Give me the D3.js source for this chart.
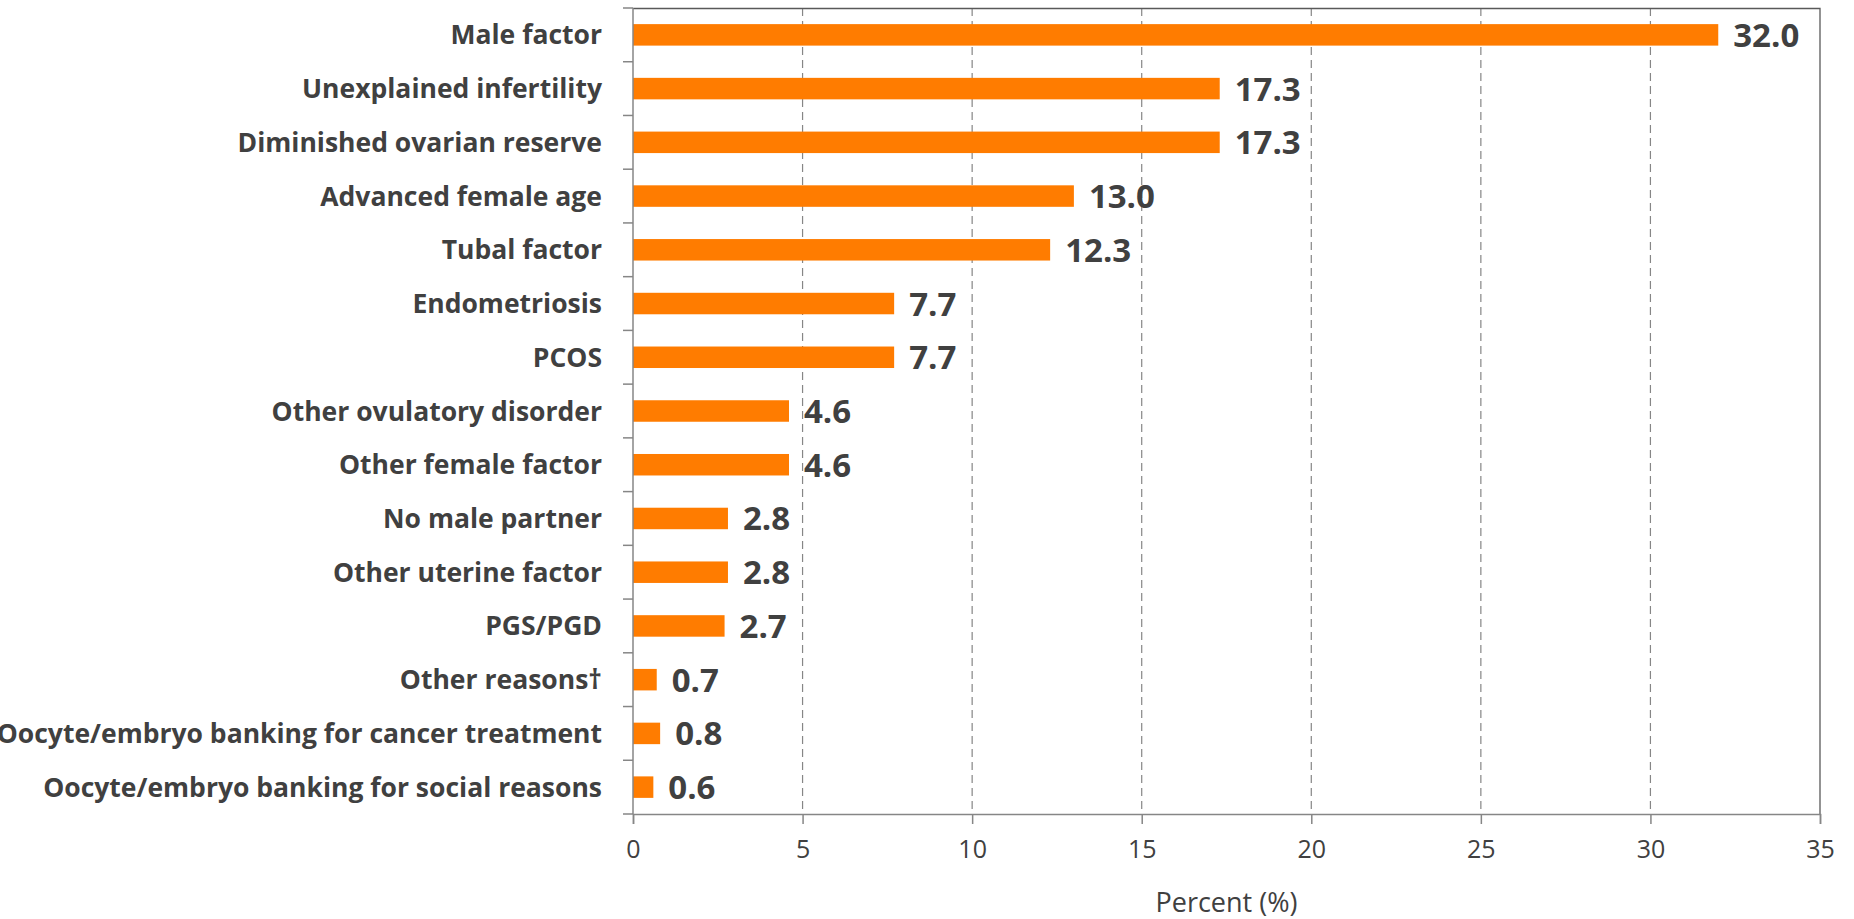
<!DOCTYPE html>
<html>
<head>
<meta charset="utf-8">
<script src="https://cdn.jsdelivr.net/npm/d3@7"></script>
<style>
  html, body { margin: 0; padding: 0; background: #fff; }
  svg { display: block; }
</style>
</head>
<body>
<div id="chart"></div>
<script>
const categories = [
  "Male factor",
  "Unexplained infertility",
  "Diminished ovarian reserve",
  "Advanced female age",
  "Tubal factor",
  "Endometriosis",
  "PCOS",
  "Other ovulatory disorder",
  "Other female factor",
  "No male partner",
  "Other uterine factor",
  "PGS/PGD",
  "Other reasons\u2020",
  "Oocyte/embryo banking for cancer treatment",
  "Oocyte/embryo banking for social reasons"
];
const values = [32.0, 17.3, 17.3, 13.0, 12.3, 7.7, 7.7, 4.6, 4.6, 2.8, 2.8, 2.7, 0.7, 0.8, 0.6];
const xTicks = [0, 5, 10, 15, 20, 25, 30, 35];
const xTitle = "Percent (%)";

const width = 1854;
const height = 919;
const margin = { top: 8, right: 34, bottom: 105, left: 633 };

const textColor = "#404040";
const axisColor = "#868686";
const barColor = "#FF7C00";

const svg = d3
  .select("#chart")
  .append("svg")
  .attr("width", width)
  .attr("height", height);

const x = d3
  .scaleLinear()
  .domain([0, 35])
  .range([margin.left, width - margin.right]);

const y = d3
  .scaleBand()
  .domain(categories)
  .range([margin.top, height - margin.bottom])
  .paddingInner(0.6)
  .paddingOuter(0.3);

const data = categories.map((c, i) => ({ name: c, value: values[i] }));

// dashed vertical gridlines
svg
  .append("g")
  .selectAll("line")
  .data(xTicks.filter((t) => t > 0 && t < 35))
  .enter()
  .append("line")
  .attr("x1", (d) => x(d))
  .attr("x2", (d) => x(d))
  .attr("y1", margin.top)
  .attr("y2", height - margin.bottom)
  .attr("stroke", axisColor)
  .attr("stroke-width", 1.2)
  .attr("stroke-dasharray", "8,5");

// frame (top + right)
svg
  .append("path")
  .attr(
    "d",
    `M${x(0)},${margin.top + 0.5}H${x(35)}V${height - margin.bottom}`
  )
  .attr("fill", "none")
  .attr("stroke", "#595959")
  .attr("stroke-width", 1.3);

// bars
svg
  .append("g")
  .selectAll("rect")
  .data(data)
  .enter()
  .append("rect")
  .attr("x", x(0))
  .attr("y", (d) => y(d.name))
  .attr("width", (d) => x(d.value) - x(0))
  .attr("height", y.bandwidth())
  .attr("fill", barColor);

// value labels
svg
  .append("g")
  .selectAll("text")
  .data(data)
  .enter()
  .append("text")
  .attr("x", (d) => x(d.value) + 15)
  .attr("y", (d) => y(d.name) + y.bandwidth() / 2 + 12)
  .attr("font-family", "'Open Sans', sans-serif")
  .attr("font-weight", "bold")
  .attr("font-size", 33)
  .attr("fill", textColor)
  .text((d) => d.value.toFixed(1));

// y axis: line + ticks at band boundaries
const step = y.step();
const boundaries = d3.range(categories.length + 1).map(
  (i) => margin.top + i * step
);
const yAxis = svg.append("g");
yAxis
  .append("line")
  .attr("x1", x(0))
  .attr("x2", x(0))
  .attr("y1", margin.top)
  .attr("y2", height - margin.bottom)
  .attr("stroke", axisColor)
  .attr("stroke-width", 1.5);
yAxis
  .selectAll(".tick")
  .data(boundaries)
  .enter()
  .append("line")
  .attr("x1", x(0) - 10)
  .attr("x2", x(0))
  .attr("y1", (d) => d)
  .attr("y2", (d) => d)
  .attr("stroke", axisColor)
  .attr("stroke-width", 1.5);

yAxis
  .selectAll("text")
  .data(categories)
  .enter()
  .append("text")
  .attr("x", x(0) - 31)
  .attr("y", (d) => y(d) + y.bandwidth() / 2 + 9.5)
  .attr("text-anchor", "end")
  .attr("font-family", "'Open Sans', sans-serif")
  .attr("font-weight", "bold")
  .attr("font-size", 26.5)
  .attr("fill", textColor)
  .text((d) => d);

// x axis
const xAxis = svg
  .append("g")
  .attr("transform", `translate(0,${height - margin.bottom})`)
  .call(d3.axisBottom(x).tickValues(xTicks).tickSize(10).tickPadding(16));

xAxis.select(".domain").attr("stroke", axisColor).attr("stroke-width", 1.5);
xAxis.selectAll(".tick line").attr("stroke", axisColor).attr("stroke-width", 1.5);
xAxis
  .selectAll(".tick text")
  .attr("font-family", "'Open Sans', sans-serif")
  .attr("font-size", 25)
  .attr("fill", textColor);

svg
  .append("text")
  .attr("x", (x(0) + x(35)) / 2)
  .attr("y", 912)
  .attr("text-anchor", "middle")
  .attr("font-family", "'Open Sans', sans-serif")
  .attr("font-size", 27)
  .attr("fill", textColor)
  .text(xTitle);
</script>
</body>
</html>
